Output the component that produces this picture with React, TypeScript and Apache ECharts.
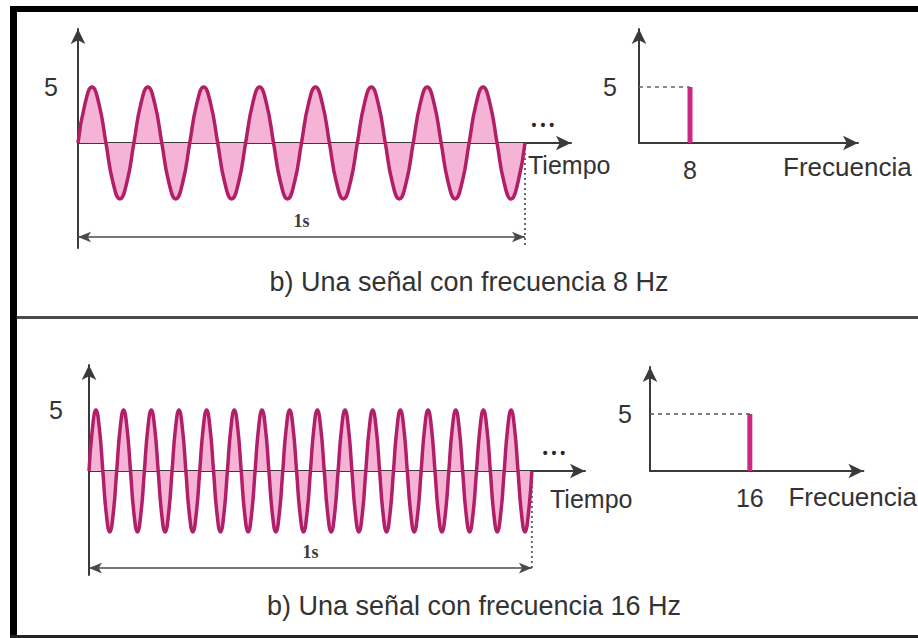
import React, { useEffect, useRef } from 'react';
import * as echarts from 'echarts';

// Signal samples, eight per cycle, over 1 s (amplitude 5)
const signal8Hz = [
  0, 3.5, 5, 3.5, 0, -3.5, -5, -3.5,
  0, 3.5, 5, 3.5, 0, -3.5, -5, -3.5,
  0, 3.5, 5, 3.5, 0, -3.5, -5, -3.5,
  0, 3.5, 5, 3.5, 0, -3.5, -5, -3.5,
  0, 3.5, 5, 3.5, 0, -3.5, -5, -3.5,
  0, 3.5, 5, 3.5, 0, -3.5, -5, -3.5,
  0, 3.5, 5, 3.5, 0, -3.5, -5, -3.5,
  0, 3.5, 5, 3.5, 0, -3.5, -5, -3.5,
  0,
];
const signal16Hz = [
  0, 3.5, 5, 3.5, 0, -3.5, -5, -3.5,
  0, 3.5, 5, 3.5, 0, -3.5, -5, -3.5,
  0, 3.5, 5, 3.5, 0, -3.5, -5, -3.5,
  0, 3.5, 5, 3.5, 0, -3.5, -5, -3.5,
  0, 3.5, 5, 3.5, 0, -3.5, -5, -3.5,
  0, 3.5, 5, 3.5, 0, -3.5, -5, -3.5,
  0, 3.5, 5, 3.5, 0, -3.5, -5, -3.5,
  0, 3.5, 5, 3.5, 0, -3.5, -5, -3.5,
  0, 3.5, 5, 3.5, 0, -3.5, -5, -3.5,
  0, 3.5, 5, 3.5, 0, -3.5, -5, -3.5,
  0, 3.5, 5, 3.5, 0, -3.5, -5, -3.5,
  0, 3.5, 5, 3.5, 0, -3.5, -5, -3.5,
  0, 3.5, 5, 3.5, 0, -3.5, -5, -3.5,
  0, 3.5, 5, 3.5, 0, -3.5, -5, -3.5,
  0, 3.5, 5, 3.5, 0, -3.5, -5, -3.5,
  0, 3.5, 5, 3.5, 0, -3.5, -5, -3.5,
  0,
];
const durationSeconds = 1;
const spectrumFreqs = [8, 16];
const spectrumAmps = [5, 5];
const ampTicks = [5];
const captions = ['b) Una señal con frecuencia 8 Hz', 'b) Una señal con frecuencia 16 Hz'];
const timeName = 'Tiempo';
const freqName = 'Frecuencia';
const durationLabel = '1s';
const moreLabel = '• • •';

const INK = '#333333';
const AXIS = '#3a3a3a';
const WAVE = '#b01f68';
const FILL = '#f5b3d5';
const BAR = '#cc2a82';
const FONT = '"Liberation Sans", Arial, sans-serif';

function toTimeData(sig: number[]) {
  const n = sig.length - 1;
  return sig.map((v, i) => [(i / n) * durationSeconds, v]);
}

function axisLineArrow() {
  return {
    show: true,
    onZero: true,
    symbol: ['none', 'arrow'],
    symbolSize: [11, 15],
    lineStyle: { color: AXIS, width: 2 },
  };
}

export default function App() {
  const ref = useRef<HTMLDivElement>(null);
  useEffect(() => {
    if (!ref.current) return;
    const chart = echarts.init(ref.current, undefined, { renderer: 'svg' });

    const timeX = (gridIndex: number, max: number, gap: number, pad: number) => ({
      type: 'value', gridIndex, min: 0, max,
      axisLine: axisLineArrow(),
      axisTick: { show: false }, axisLabel: { show: false }, splitLine: { show: false },
      name: timeName, nameLocation: 'end', nameGap: gap,
      nameTextStyle: { fontSize: 25, color: INK, fontFamily: FONT, align: 'left', verticalAlign: 'top', padding: [pad, 0, 0, 0] },
    });
    const freqX = (gridIndex: number, max: number, f: number, pad: number) => ({
      type: 'value', gridIndex, min: 0, max,
      axisLine: axisLineArrow(),
      axisTick: { show: false }, splitLine: { show: false },
      axisLabel: { show: true, customValues: [f], margin: 14, fontSize: 25, color: INK, fontFamily: FONT },
      name: freqName, nameLocation: 'end', nameGap: -75,
      nameTextStyle: { fontSize: 26, color: INK, fontFamily: FONT, align: 'left', verticalAlign: 'top', padding: [pad, 0, 0, 0] },
    });
    const ampY = (gridIndex: number, min: number, max: number, margin: number) => ({
      type: 'value', gridIndex, min, max,
      axisLine: axisLineArrow(),
      axisTick: { show: false }, splitLine: { show: false },
      axisLabel: { show: true, customValues: ampTicks, margin, fontSize: 25, color: INK, fontFamily: FONT },
    });

    const waveSeries = (idx: number, sig: number[], dimY: number, dotY: number, moreX: number, moreY: number) => [
      {
        type: 'line', xAxisIndex: idx, yAxisIndex: idx,
        data: toTimeData(sig), smooth: 0.5, symbol: 'none',
        lineStyle: { color: WAVE, width: 3.5 },
        areaStyle: { color: FILL, opacity: 1 },
        z: 3,
        markLine: {
          silent: true,
          symbol: ['arrow', 'arrow'], symbolSize: [8, 13],
          lineStyle: { color: '#4a4a4a', width: 1.5, type: 'solid' },
          label: { show: true, position: 'middle', formatter: durationLabel, distance: 7, fontSize: 18, fontWeight: 'bold', color: '#3a3a3a', fontFamily: '"Liberation Serif", serif' },
          data: [[{ coord: [0, dimY] }, { coord: [durationSeconds, dimY] }]],
        },
        markPoint: {
          silent: true,
          symbol: 'circle', symbolSize: 0,
          label: { show: true, formatter: moreLabel, fontSize: 14, fontWeight: 'bold', color: '#2a2a2a' },
          data: [{ coord: [moreX, moreY] }],
        },
      },
      {
        type: 'line', xAxisIndex: idx, yAxisIndex: idx,
        data: [[durationSeconds, 0], [durationSeconds, dotY]], symbol: 'none',
        lineStyle: { color: '#666', width: 2, type: [2, 3] },
        z: 2,
      },
    ];

    const spectrumSeries = (idx: number, k: number, dashColor: string) => ({
      type: 'line', xAxisIndex: idx, yAxisIndex: idx,
      data: [[spectrumFreqs[k], 0], [spectrumFreqs[k], spectrumAmps[k]]], symbol: 'none',
      lineStyle: { color: BAR, width: 5 },
      z: 3,
      markLine: {
        silent: true, symbol: ['none', 'none'],
        lineStyle: { color: dashColor, width: 1.5, type: [4, 4] },
        label: { show: false },
        data: [[{ coord: [0, spectrumAmps[k]] }, { coord: [spectrumFreqs[k], spectrumAmps[k]] }]],
      },
    });

    const option: any = {
      animation: false,
      backgroundColor: '#ffffff',
      grid: [
        { left: 78, top: 29, width: 493, height: 219 },
        { left: 639, top: 29, width: 219, height: 114 },
        { left: 89, top: 365, width: 496, height: 210 },
        { left: 650, top: 367, width: 218, height: 104 },
      ],
      xAxis: [
        timeX(0, 1.103, -43, 9),
        freqX(1, 34.35, spectrumFreqs[0], 11),
        timeX(2, 1.12, -35, 15),
        freqX(3, 34.2, spectrumFreqs[1], 13),
      ],
      yAxis: [
        ampY(0, -9.375, 10.18, 20),
        ampY(1, 0, 10.18, 22),
        ampY(2, -8.52, 8.69, 26),
        ampY(3, 0, 9.12, 18),
      ],
      series: [
        ...waveSeries(0, signal8Hz, -8.39, -9.1, 1.04, 1.6),
        spectrumSeries(1, 0, '#666'),
        ...waveSeries(2, signal16Hz, -7.95, -8.1, 1.05, 1.47),
        spectrumSeries(3, 1, '#555'),
      ],
      graphic: [
        { type: 'rect', left: 10, top: 6, shape: { width: 908, height: 6 }, style: { fill: '#000' } },
        { type: 'rect', left: 10, top: 6, shape: { width: 7, height: 631 }, style: { fill: '#000' } },
        { type: 'rect', left: 17, top: 316, shape: { width: 901, height: 3 }, style: { fill: '#4a4a4a' } },
        { type: 'rect', left: 10, top: 635, shape: { width: 908, height: 3 }, style: { fill: '#222' } },
        {
          type: 'text', x: 469, y: 282,
          style: { text: captions[0], fontSize: 27, fill: INK, fontFamily: FONT, textAlign: 'center', textVerticalAlign: 'middle' },
        },
        {
          type: 'text', x: 474, y: 606,
          style: { text: captions[1], fontSize: 27, fill: INK, fontFamily: FONT, textAlign: 'center', textVerticalAlign: 'middle' },
        },
      ],
    };
    chart.setOption(option);
    return () => chart.dispose();
  }, []);

  return (
    <div
      ref={ref}
      style={{ position: 'fixed', left: 0, top: 0, width: 918, height: 638, background: '#fff' }}
    />
  );
}
